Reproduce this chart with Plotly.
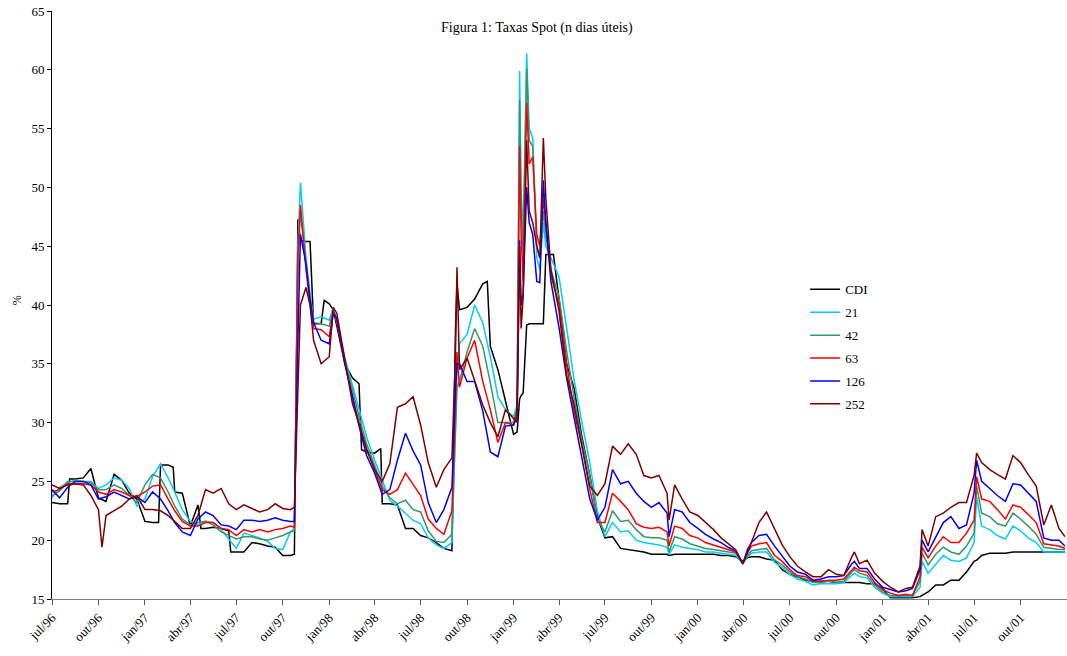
import plotly.graph_objects as go

dates = [
    "1996-07-01", "1996-07-16", "1996-08-01", "1996-08-05", "1996-08-16", "1996-09-01", "1996-09-16",
    "1996-10-01", "1996-10-08", "1996-10-16", "1996-11-01", "1996-11-16", "1996-12-01", "1996-12-16",
    "1997-01-01", "1997-01-16", "1997-01-28", "1997-02-01", "1997-02-16", "1997-02-26", "1997-03-01",
    "1997-03-16", "1997-04-01", "1997-04-16", "1997-04-22", "1997-05-01", "1997-05-16", "1997-06-01",
    "1997-06-16", "1997-06-20", "1997-07-01", "1997-07-16", "1997-08-01", "1997-08-16", "1997-09-01",
    "1997-09-16", "1997-10-01", "1997-10-16", "1997-10-24", "1997-10-31", "1997-11-05", "1997-11-16",
    "1997-11-24", "1997-12-01", "1997-12-16", "1997-12-22", "1998-01-01", "1998-01-09", "1998-01-16",
    "1998-02-01", "1998-02-16", "1998-03-01", "1998-03-06", "1998-03-16", "1998-04-01", "1998-04-13",
    "1998-04-16", "1998-05-01", "1998-05-16", "1998-06-01", "1998-06-16", "1998-07-01", "1998-07-16",
    "1998-08-01", "1998-08-16", "1998-09-01", "1998-09-08", "1998-09-11", "1998-09-16", "1998-10-01",
    "1998-10-16", "1998-11-01", "1998-11-10", "1998-11-16", "1998-12-01", "1998-12-16", "1999-01-01",
    "1999-01-08", "1999-01-13", "1999-01-16", "1999-01-20", "1999-01-27", "1999-02-01", "1999-02-08",
    "1999-02-16", "1999-02-22", "1999-03-01", "1999-03-06", "1999-03-16", "1999-03-21", "1999-04-01",
    "1999-04-16", "1999-05-01", "1999-05-16", "1999-06-01", "1999-06-16", "1999-07-01", "1999-07-16",
    "1999-08-01", "1999-08-16", "1999-09-01", "1999-09-16", "1999-10-01", "1999-10-16", "1999-11-01",
    "1999-11-05", "1999-11-16", "1999-12-01", "1999-12-16", "2000-01-01", "2000-01-16", "2000-02-01",
    "2000-02-16", "2000-03-01", "2000-03-16", "2000-03-30", "2000-04-08", "2000-04-16", "2000-05-01",
    "2000-05-16", "2000-06-01", "2000-06-16", "2000-07-01", "2000-07-16", "2000-08-01", "2000-08-16",
    "2000-09-01", "2000-09-16", "2000-10-01", "2000-10-16", "2000-11-01", "2000-11-06", "2000-11-16",
    "2000-12-01", "2000-12-16", "2001-01-01", "2001-01-16", "2001-02-01", "2001-02-16", "2001-03-01",
    "2001-03-16", "2001-03-20", "2001-04-01", "2001-04-16", "2001-05-01", "2001-05-16", "2001-06-01",
    "2001-06-16", "2001-07-01", "2001-07-06", "2001-07-16", "2001-08-01", "2001-08-16", "2001-09-01",
    "2001-09-16", "2001-10-01", "2001-10-16", "2001-11-01", "2001-11-16", "2001-12-01", "2001-12-16",
    "2001-12-28",
]

N = None

cdi = [
    23.2, 23.1, 23.1, 25.2, 25.2, 25.3, 26.1,
    23.6, N, 23.3, 25.6, 25.1, 24.0, 23.5,
    21.6, 21.5, 21.5, 26.4, 26.4, 26.2, 24.1,
    24.0, 21.2, 23.0, 21.0, 21.0, 21.1, 21.0,
    20.8, 19.0, 19.0, 19.0, 19.8, 19.7, 19.5,
    19.4, 18.7, 18.7, 18.8, 47.3, 45.5, 45.4,
    45.4, 38.4, 38.4, 40.4, 40.1, 39.6, 38.2,
    35.0, 33.8, 33.3, 27.7, 27.5, 27.4, 27.8,
    23.1, 23.1, 23.0, 21.0, 21.0, 20.4, 20.2,
    19.8, 19.3, 19.1, 37.8, 41.8, 39.6, 39.8,
    40.5, 41.8, 42.0, 36.5, 34.5, 31.9, 29.0,
    29.2, 32.0, 32.3, 32.5, 38.3, 38.4, 38.4,
    38.4, 38.4, 38.4, 44.3, 44.3, 44.3, 40.5,
    35.0, 32.9, 28.9, 25.5, 22.0, 20.2, 20.3,
    19.3, 19.2, 19.1, 19.0, 18.8, 18.8, 18.8,
    18.7, 18.8, 18.8, 18.8, 18.8, 18.8, 18.8,
    18.7, 18.7, 18.6, 18.2, 18.5, 18.6, 18.6,
    18.4, 18.3, 17.5, 17.1, 16.9, 16.6, 16.5,
    16.5, 16.5, 16.4, 16.4, 16.4, 16.4, 16.4,
    16.3, 16.3, 15.9, 15.1, 15.1, 15.1, 15.1,
    15.2, 15.3, 15.6, 16.2, 16.2, 16.6, 16.6,
    17.3, 18.2, 18.3, 18.7, 18.9, 18.9, 18.9,
    19.0, 19.0, 19.0, 19.0, 19.0, 19.0, 19.0,
    19.0,
]

s21 = [
    23.6, 24.5, 24.9, N, 25.1, 25.0, 25.0,
    24.4, N, 24.7, 25.3, 25.1, 24.4, 22.9,
    23.5, 25.4, N, 26.5, 25.3, N, 24.1,
    22.6, 21.6, 21.3, N, 21.6, 21.5, 20.9,
    20.1, N, 19.3, 20.6, 20.4, 20.2, 19.9,
    19.3, 19.2, 20.7, 21.0, 45.0, 50.4, 44.0,
    41.0, 38.8, 39.0, N, 38.7, 39.8, 38.6,
    35.5, 33.1, 31.1, N, 28.8, 26.8, N,
    25.1, 23.4, 22.9, 22.3, 21.7, 21.4, 20.2,
    19.6, 19.3, 19.8, 30.0, 34.0, 36.7, 37.5,
    40.0, 38.5, N, 35.6, 32.2, 31.1, 30.5,
    31.5, 59.9, 50.0, 46.0, 61.4, 55.0, 54.2,
    44.0, 43.0, 47.0, 45.0, 44.0, N, 42.4,
    38.1, 33.6, 30.1, 26.6, 22.5, 20.3, 21.5,
    20.7, 20.8, 20.0, 19.8, 19.7, 19.6, 19.4,
    18.8, 19.6, 19.4, 19.3, 19.2, 19.0, 19.0,
    18.9, 18.8, 18.7, 18.0, 18.6, 18.9, 19.0,
    19.0, 18.1, 17.7, 17.1, 16.7, 16.5, 16.2,
    16.3, 16.3, 16.3, 16.4, 17.0, 17.2, 16.9,
    16.8, 16.0, 15.5, 15.2, 15.2, 15.2, 15.2,
    16.0, 18.2, 17.2, 18.0, 18.7, 18.3, 18.2,
    18.5, 19.8, 23.7, 21.2, 20.9, 20.4, 20.1,
    21.2, 20.8, 20.2, 19.8, 19.0, 19.0, 19.0,
    19.0,
]

s42 = [
    23.8, 24.2, 25.0, N, 25.0, 25.0, 24.9,
    24.3, N, 24.3, 24.7, 24.4, 23.8, 23.2,
    24.7, 25.6, N, 25.3, 24.1, N, 22.9,
    21.8, 21.3, 21.5, N, 21.6, 21.3, 20.7,
    20.4, N, 20.1, 20.3, 20.3, 20.1, 20.0,
    20.2, 20.4, 20.7, 20.8, 44.0, 48.0, 43.5,
    40.5, 38.5, 38.4, N, 38.2, 39.6, 38.7,
    35.3, 32.8, 30.5, N, 28.2, 26.4, N,
    24.6, 23.6, 23.1, 23.4, 22.6, 22.4, 20.8,
    19.9, 19.8, 20.5, 30.0, 33.0, 33.5, 36.0,
    38.0, 36.5, N, 33.4, 30.0, 30.0, 30.0,
    31.3, 57.4, 48.0, 44.5, 60.1, 54.0, 53.5,
    45.0, 44.0, 48.0, 46.0, 43.0, N, 40.7,
    36.1, 32.1, 28.6, 25.5, 21.8, 20.7, 22.5,
    21.6, 21.7, 20.9, 20.3, 20.2, 20.2, 20.0,
    19.0, 20.3, 20.1, 19.7, 19.5, 19.3, 19.2,
    19.1, 19.0, 18.9, 18.0, 18.7, 19.1, 19.2,
    19.3, 18.3, 17.9, 17.3, 16.9, 16.7, 16.4,
    16.4, 16.5, 16.4, 16.5, 17.3, 17.5, 17.2,
    17.0, 16.2, 15.6, 15.3, 15.3, 15.3, 15.3,
    16.5, 18.9, 17.9, 18.8, 19.4, 19.0, 18.8,
    19.5, 20.6, 24.6, 22.3, 22.0, 21.4, 21.2,
    22.3, 21.8, 21.2, 20.5, 19.4, 19.3, 19.2,
    19.2,
]

s63 = [
    24.1, 24.3, 24.8, N, 24.8, 24.8, 24.7,
    24.1, N, 23.9, 24.3, 24.1, 23.8, 23.7,
    24.1, 24.6, N, 24.7, 23.5, N, 22.5,
    21.6, 21.2, 21.2, N, 21.5, 21.5, 21.0,
    20.9, N, 20.4, 20.9, 20.7, 20.9, 20.7,
    20.9, 21.0, 21.2, 21.1, 44.0, 48.5, 43.0,
    40.0, 38.0, 37.9, N, 37.3, 39.5, 38.6,
    35.0, 32.2, 29.9, N, 27.8, 26.0, N,
    24.3, 23.9, 24.3, 25.7, 24.8, 23.8, 21.8,
    21.0, 20.5, 22.5, 32.0, 36.0, 33.0, 35.5,
    37.0, 33.5, N, 31.1, 28.3, 30.0, 29.8,
    31.0, 53.5, 46.0, 42.0, 57.2, 52.0, 52.6,
    46.0, 45.0, 49.0, 47.0, 42.5, N, 40.1,
    35.0, 30.9, 28.1, 24.3, 21.5, 21.5, 24.0,
    23.3, 22.6, 21.4, 21.1, 21.0, 21.1, 20.7,
    19.5, 21.2, 21.0, 20.4, 20.2, 19.8, 19.6,
    19.4, 19.2, 19.0, 18.0, 18.9, 19.5, 19.7,
    19.8, 18.7, 18.2, 17.5, 17.0, 16.9, 16.5,
    16.5, 16.6, 16.6, 16.7, 17.5, 17.7, 17.4,
    17.3, 16.4, 15.8, 15.5, 15.3, 15.4, 15.3,
    16.9, 19.4, 18.5, 19.5, 20.3, 19.8, 19.8,
    20.6, 21.7, 25.4, 23.5, 23.3, 22.6, 21.8,
    23.0, 22.8, 22.2, 21.5, 19.7, 19.6, 19.5,
    19.3,
]

s126 = [
    24.3, 23.6, 24.5, N, 25.0, 25.0, 24.7,
    23.5, N, 23.7, 24.1, 23.8, 23.5, 23.7,
    23.2, 24.1, N, 23.5, 22.5, N, 21.5,
    20.7, 20.4, 21.8, N, 22.4, 22.1, 21.3,
    21.2, N, 20.9, 21.7, 21.7, 21.6, 21.7,
    21.9, 21.7, 21.6, 21.6, 37.0, 46.0, 43.5,
    40.5, 38.5, 37.0, N, 36.7, 39.3, 38.9,
    35.0, 32.2, 29.7, N, 27.2, 25.7, N,
    23.9, 24.3, 26.8, 29.1, 27.6, 26.4, 23.2,
    21.5, 22.6, 24.5, 33.0, 35.0, 35.0, 33.5,
    33.5, 31.0, N, 27.5, 27.1, 29.7, 29.8,
    30.5, 45.5, 40.0, 41.0, 50.0, 47.0, 46.0,
    42.0, 41.9, 50.6, 47.0, 42.0, N, 38.1,
    33.8, 30.4, 27.2, 23.5, 21.7, 22.8, 26.0,
    24.8, 25.0, 24.0, 23.3, 22.8, 23.2, 22.3,
    20.3, 22.6, 22.4, 21.5, 21.0, 20.5, 20.1,
    19.8, 19.4, 19.1, 18.0, 19.0, 19.8, 20.4,
    20.5, 19.5, 18.7, 17.8, 17.3, 17.1, 16.6,
    16.7, 16.9, 16.9, 17.0, 18.0, 18.2, 17.6,
    17.6, 16.7, 16.0, 15.8, 15.6, 15.7, 15.9,
    17.5, 20.0, 19.0, 20.3, 21.5, 22.0, 21.0,
    21.3, 24.0, 26.8, 25.0, 24.4, 23.8, 23.3,
    24.8, 24.7, 24.0, 23.3, 20.2, 20.0, 20.0,
    19.5,
]

s252 = [
    24.7, 24.4, 24.7, N, 24.8, 24.7, 23.8,
    22.6, 19.4, 22.1, 22.5, 22.9, 23.5, 23.8,
    22.6, 22.6, N, 22.5, 22.1, N, 21.6,
    21.0, 21.0, 22.1, N, 24.3, 24.0, 24.4,
    23.1, N, 22.6, 23.0, 22.7, 22.4, 22.6,
    23.1, 22.7, 22.6, 22.8, 32.7, 40.0, 41.5,
    40.0, 37.0, 35.0, N, 35.6, 39.8, 39.3,
    35.2, 31.6, 29.9, N, 27.7, 26.0, N,
    25.0, 26.5, 31.3, 31.6, 32.2, 29.8, 26.6,
    24.5, 26.0, 27.0, 36.0, 43.2, 34.5, 35.5,
    33.5, 31.5, N, 30.0, 28.8, 31.1, 30.3,
    30.0, 45.0, 38.0, 40.7, 54.0, 48.0, 47.0,
    45.0, 44.0, 54.2, 49.0, 43.0, N, 39.5,
    34.0, 31.5, 28.1, 24.6, 23.8, 24.8, 28.0,
    27.3, 28.2, 27.3, 25.5, 25.3, 25.5, 24.0,
    21.7, 24.7, 23.5, 22.4, 22.1, 21.5, 20.9,
    20.2, 19.7, 19.2, 18.0, 19.2, 19.8, 21.5,
    22.4, 21.0, 19.6, 18.6, 17.8, 17.3, 16.9,
    16.9, 17.5, 17.1, 17.0, 18.6, 19.0, 18.0,
    18.3, 17.2, 16.5, 16.0, 15.6, 15.9, 16.0,
    17.8, 20.9, 19.5, 22.0, 22.3, 22.8, 23.2,
    23.2, 25.5, 27.4, 26.6, 26.0, 25.6, 25.2,
    27.2, 26.6, 25.6, 24.6, 21.3, 23.0, 21.0,
    20.3,
]

series_names = ["CDI", "21", "42", "63", "126", "252"]
series_values = [cdi, s21, s42, s63, s126, s252]
series_colors = ["#000000", "#00CCFF", "#339966", "#FF0000", "#0000FF", "#800000"]

tick_dates = [
    "1996-07-01", "1996-10-01", "1997-01-01", "1997-04-01", "1997-07-01", "1997-10-01",
    "1998-01-01", "1998-04-01", "1998-07-01", "1998-10-01", "1999-01-01", "1999-04-01",
    "1999-07-01", "1999-10-01", "2000-01-01", "2000-04-01", "2000-07-01", "2000-10-01",
    "2001-01-01", "2001-04-01", "2001-07-01", "2001-10-01",
]
tick_labels = [
    "jul/96", "out/96", "jan/97", "abr/97", "jul/97", "out/97",
    "jan/98", "abr/98", "jul/98", "out/98", "jan/99", "abr/99",
    "jul/99", "out/99", "jan/00", "abr/00", "jul/00", "out/00",
    "jan/01", "abr/01", "jul/01", "out/01",
]

FONT = "Liberation Serif, Times New Roman, serif"

fig = go.Figure()
for name, vals, col in zip(series_names, series_values, series_colors):
    fig.add_trace(go.Scatter(
        x=dates, y=vals, name=name, mode="lines", connectgaps=True,
        line=dict(color=col, width=1.5), legendgroup=name,
    ))

fig.update_layout(
    width=1067, height=656,
    margin=dict(l=52, r=0, t=11, b=57, autoexpand=False),
    paper_bgcolor="white", plot_bgcolor="white",
    font=dict(family=FONT, color="black", size=13),
    showlegend=True,
    legend=dict(
        x=0.742, y=0.552, xanchor="left", yanchor="top",
        bgcolor="rgba(0,0,0,0)", borderwidth=0,
        font=dict(family=FONT, size=13, color="black"),
        tracegroupgap=3, itemwidth=30,
    ),
    xaxis=dict(
        type="date", range=["1996-07-01", "2002-01-01"], automargin=False,
        tickmode="array", tickvals=tick_dates, ticktext=tick_labels,
        tickangle=-45, ticks="outside", ticklen=5, tickcolor="#555555",
        showline=True, linecolor="#808080", linewidth=1,
        showgrid=False, zeroline=False,
        tickfont=dict(family=FONT, size=13, color="black"),
    ),
    yaxis=dict(
        range=[15, 65], tickmode="linear", tick0=15, dtick=5, automargin=False,
        ticks="outside", ticklen=4, tickcolor="black",
        showline=True, linecolor="black", linewidth=1,
        showgrid=False, zeroline=False,
        tickfont=dict(family=FONT, size=13, color="black"),
    ),
    annotations=[
        dict(text="Figura 1: Taxas Spot (n dias úteis)", xref="paper", yref="paper",
             x=0.478, y=0.971, xanchor="center", yanchor="middle", showarrow=False,
             font=dict(family=FONT, size=14, color="black")),
        dict(text="%", xref="paper", yref="paper", x=-0.0345, y=0.508, textangle=-90,
             xanchor="center", yanchor="middle",
             showarrow=False, font=dict(family=FONT, size=12, color="black")),
    ],
)

fig.write_html("out.html", config={"displayModeBar": False},
               post_script="document.body.style.margin='0';")
